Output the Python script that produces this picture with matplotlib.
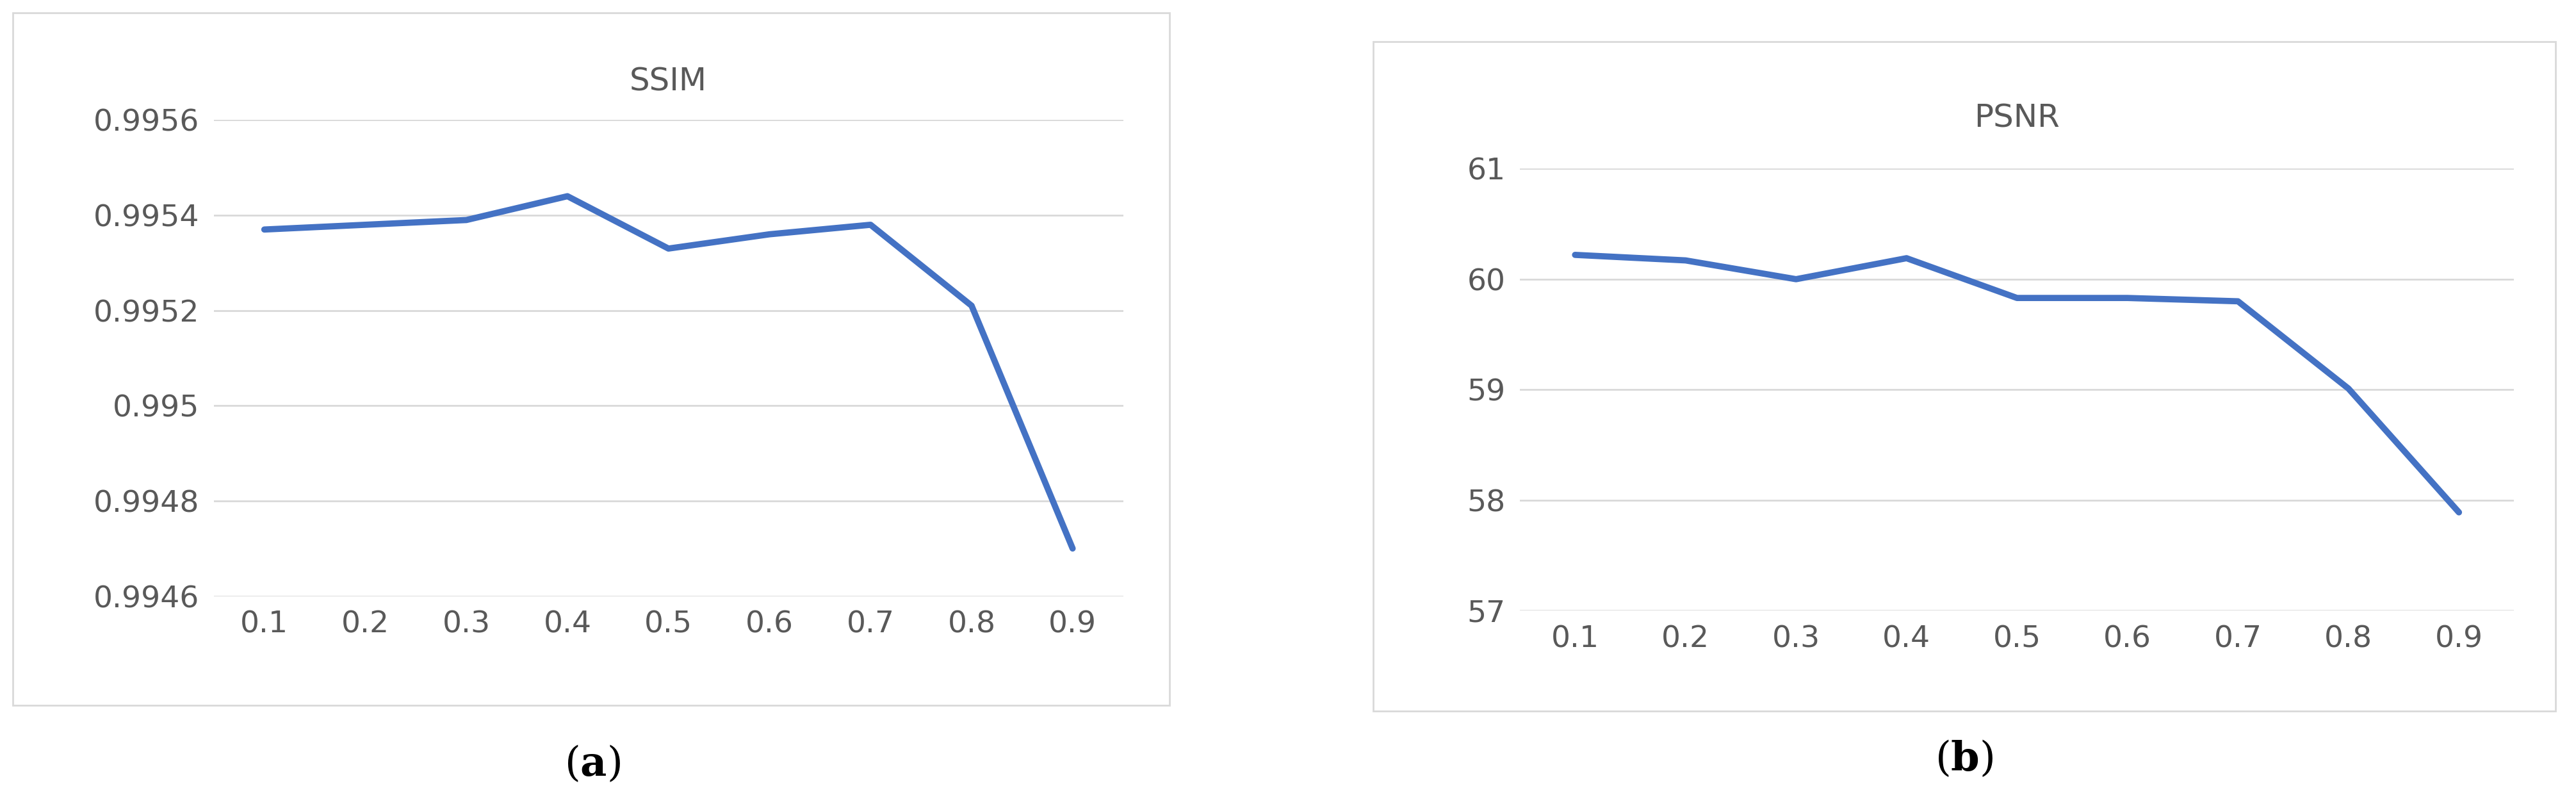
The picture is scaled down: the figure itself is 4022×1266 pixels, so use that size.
import matplotlib
matplotlib.use("Agg")
import matplotlib.pyplot as plt
from matplotlib.patches import Rectangle

categories = ["0.1","0.2","0.3","0.4","0.5","0.6","0.7","0.8","0.9"]
ssim = [0.99537, 0.99538, 0.99539, 0.99544, 0.99533, 0.99536, 0.99538, 0.99521, 0.99470]
psnr = [60.22, 60.17, 60.00, 60.19, 59.83, 59.83, 59.80, 59.01, 57.89]
ssim_ticks = [0.9946, 0.9948, 0.995, 0.9952, 0.9954, 0.9956]
ssim_ticklabels = ["0.9946", "0.9948", "0.995", "0.9952", "0.9954", "0.9956"]
psnr_ticks = [57, 58, 59, 60, 61]

fig = plt.figure(figsize=(40.22, 12.66), dpi=100)
grey = "#595959"
blue = "#4472C4"
fs = 34

for (x0, y0, w, h) in [(0.005, 0.130, 0.449, 0.854), (0.533, 0.123, 0.459, 0.826)]:
    fig.patches.append(Rectangle((x0, y0), w, h, transform=fig.transFigure,
                                 fill=False, edgecolor="#D9D9D9", linewidth=2))

def setup(ax, vals, ticks, labels, ylim, title, title_y):
    x = list(range(len(categories)))
    ax.plot(x, vals, color=blue, linewidth=7, solid_capstyle="round", zorder=3)
    ax.set_xlim(-0.5, len(categories) - 0.5)
    ax.set_ylim(*ylim)
    ax.set_yticks(ticks)
    ax.set_yticklabels(labels)
    ax.set_xticks(x)
    ax.set_xticklabels(categories)
    ax.grid(axis="y", color="#D9D9D9", linewidth=2)
    for s in ax.spines.values():
        s.set_visible(False)
    ax.tick_params(length=0, labelsize=fs, labelcolor=grey, pad=16)
    ax.set_facecolor("none")
    fig.text(ax.get_position().x0 + ax.get_position().width / 2, title_y, title,
             ha="center", va="center", fontsize=36, color=grey)

ax1 = fig.add_axes([0.083, 0.265, 0.353, 0.587])
setup(ax1, ssim, ssim_ticks, ssim_ticklabels, (0.9946, 0.9956), "SSIM", 0.899)
ax2 = fig.add_axes([0.590, 0.247, 0.386, 0.545])
setup(ax2, psnr, psnr_ticks, [str(t) for t in psnr_ticks], (57, 61), "PSNR", 0.854)

def panel_label(xc, y, letter):
    fig.text(xc, y, r"($\mathbf{" + letter + r"}$)", ha="center", va="center",
             fontsize=46, family="DejaVu Serif")

matplotlib.rcParams["mathtext.fontset"] = "dejavuserif"
panel_label(0.2300, 0.058, "a")
panel_label(0.7625, 0.064, "b")

fig.savefig("out.png", dpi=100)
